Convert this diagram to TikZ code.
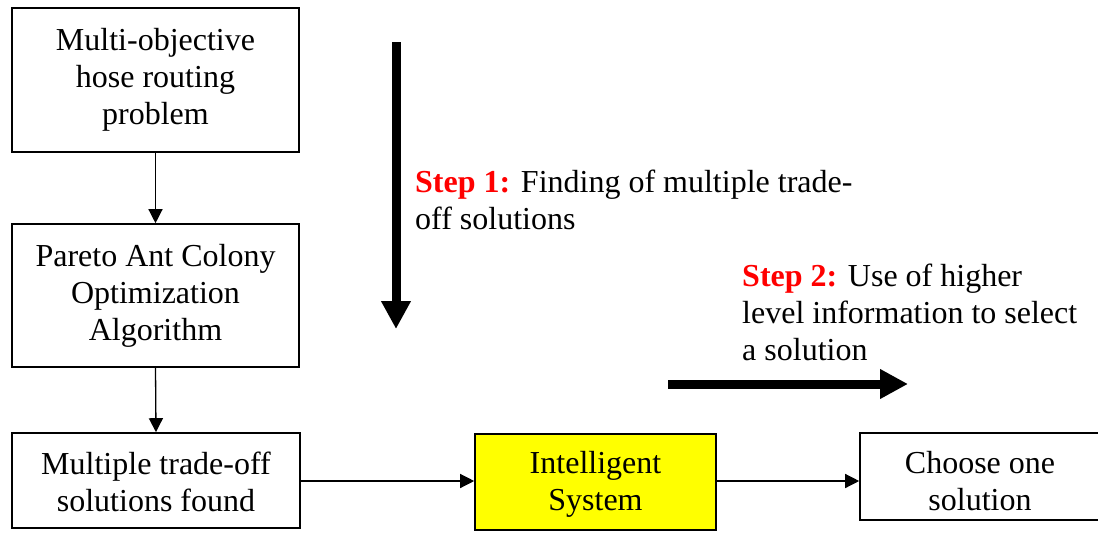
\documentclass[tikz,border=0pt]{standalone}
\usepackage{fontspec}
\setmainfont{Liberation Serif}
\usetikzlibrary{arrows.meta}
\definecolor{stepred}{RGB}{255,0,0}
\definecolor{boxyellow}{RGB}{255,255,0}
\begin{document}
\begin{tikzpicture}[x=1pt,y=-1pt,
  font=\fontsize{32}{37}\selectfont,
  flowbox/.style={draw=black,line width=1.6pt,align=center,inner sep=0pt},
  boxtext/.style={align=center,inner sep=0pt},
  thin/.style={line width=1.3pt,-{Triangle[length=14pt,width=14pt]}},
  thick/.style={line width=9pt,-{Triangle[length=28pt,width=28pt]}},
  steptext/.style={align=left,anchor=west,inner sep=0pt}]
\useasboundingbox (0,0) rectangle (1098,533);
\clip (0,0) rectangle (1098,533);
\node[flowbox,minimum width=287pt,minimum height=144pt] (b1) at (155.5,80) {Multi-objective\\hose routing\\problem};
\node[flowbox,minimum width=287pt,minimum height=143pt] (b2) at (155.5,295.5) {Pareto Ant Colony\\Optimization\\Algorithm};
\node[flowbox,minimum width=288pt,minimum height=95pt,
  label={[boxtext,yshift=-1.5pt]center:Multiple trade-off\\solutions found}] (b3) at (156,480.5) {};
\node[flowbox,fill=boxyellow,minimum width=241pt,minimum height=96pt,anchor=north,
  label={[boxtext,yshift=-2.5pt]center:Intelligent\\System}] (b4) at (595.5,433) {};
\node[flowbox,minimum width=240pt,minimum height=87pt,
  label={[boxtext,yshift=-4.5pt]center:Choose one\\solution}] (b5) at (980,476.5) {};
\draw[thin] (b1.south) -- (b2.north);
\draw[thin] (b2.south) -- (b3.north);
\draw[thin] (b3.east |- 0,481) coordinate (a3) -- (a3 -| b4.west);
\draw[thin] (b4.east |- 0,481) coordinate (a4) -- (a4 -| b5.west);
\coordinate (d1) at (396,42);
\coordinate (d2) at (396,329);
\draw[thick] (d1) -- (d2);
\coordinate (r1) at (668,384);
\coordinate (r2) at (908,384);
\draw[thick] (r1) -- (r2);
\node[steptext] (s1) at (415,200) {\textcolor{stepred}{\textbf{Step 1:}} Finding of multiple trade-\\off solutions};
\node[steptext] (s2) at (742,312) {\textcolor{stepred}{\textbf{Step 2:}} Use of higher\\level information to select\\a solution};
\end{tikzpicture}
\end{document}
